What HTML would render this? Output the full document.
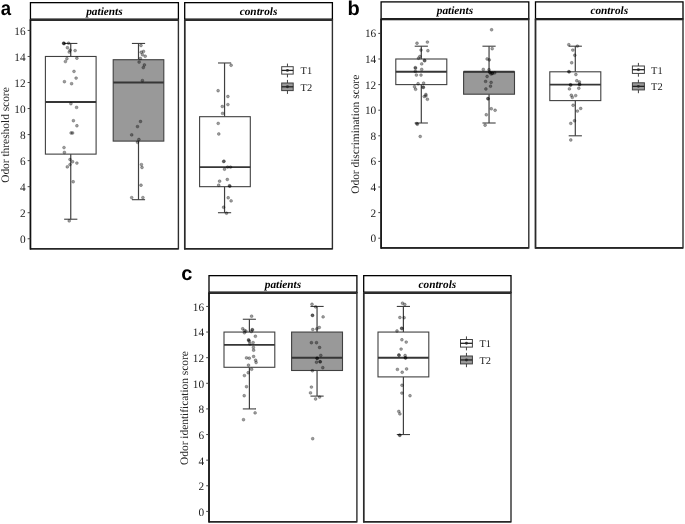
<!DOCTYPE html>
<html><head><meta charset="utf-8"><style>
html,body{margin:0;padding:0;background:#fff;}
body{width:685px;height:524px;overflow:hidden;}
svg{display:block;will-change:transform;}
text{text-rendering:geometricPrecision;}
</style></head><body>
<svg width="685" height="524" viewBox="0 0 685 524">
<rect width="685" height="524" fill="#fff"/>
<text transform="translate(0.7,14.8) scale(0.93,1)" font-family='"Liberation Sans", sans-serif' font-weight="bold" font-size="20" fill="#000">a</text>
<line x1="70.75" y1="43.45" x2="70.75" y2="56.47" stroke="#404040" stroke-width="1.2"/>
<line x1="70.75" y1="154.12" x2="70.75" y2="219.22" stroke="#404040" stroke-width="1.2"/>
<line x1="64.15" y1="43.45" x2="77.35" y2="43.45" stroke="#404040" stroke-width="1.1"/>
<line x1="64.15" y1="219.22" x2="77.35" y2="219.22" stroke="#404040" stroke-width="1.1"/>
<rect x="45.40" y="56.47" width="50.70" height="97.65" fill="#fff" stroke="#404040" stroke-width="1.1"/>
<line x1="45.40" y1="102.04" x2="96.10" y2="102.04" stroke="#363636" stroke-width="1.9"/>
<line x1="138.50" y1="43.45" x2="138.50" y2="59.72" stroke="#404040" stroke-width="1.2"/>
<line x1="138.50" y1="141.10" x2="138.50" y2="199.69" stroke="#404040" stroke-width="1.2"/>
<line x1="131.90" y1="43.45" x2="145.10" y2="43.45" stroke="#404040" stroke-width="1.1"/>
<line x1="131.90" y1="199.69" x2="145.10" y2="199.69" stroke="#404040" stroke-width="1.1"/>
<rect x="113.20" y="59.72" width="50.60" height="81.38" fill="#999999" stroke="#404040" stroke-width="1.1"/>
<line x1="113.20" y1="82.51" x2="163.80" y2="82.51" stroke="#363636" stroke-width="1.9"/>
<line x1="224.55" y1="62.98" x2="224.55" y2="116.69" stroke="#404040" stroke-width="1.2"/>
<line x1="224.55" y1="186.67" x2="224.55" y2="212.71" stroke="#404040" stroke-width="1.2"/>
<line x1="217.95" y1="62.98" x2="231.15" y2="62.98" stroke="#404040" stroke-width="1.1"/>
<line x1="217.95" y1="212.71" x2="231.15" y2="212.71" stroke="#404040" stroke-width="1.1"/>
<rect x="199.60" y="116.69" width="50.70" height="69.98" fill="#fff" stroke="#404040" stroke-width="1.1"/>
<line x1="199.60" y1="167.14" x2="250.30" y2="167.14" stroke="#363636" stroke-width="1.9"/>
<circle cx="63.8" cy="43.4" r="1.45" fill="#000" fill-opacity="0.38" stroke="#000" stroke-opacity="0.38" stroke-width="0.6"/>
<circle cx="64.2" cy="43.6" r="1.45" fill="#000" fill-opacity="0.38" stroke="#000" stroke-opacity="0.38" stroke-width="0.6"/>
<circle cx="63.6" cy="43.2" r="1.45" fill="#000" fill-opacity="0.38" stroke="#000" stroke-opacity="0.38" stroke-width="0.6"/>
<circle cx="68.6" cy="43.2" r="1.45" fill="#000" fill-opacity="0.38" stroke="#000" stroke-opacity="0.38" stroke-width="0.6"/>
<circle cx="67.4" cy="47.7" r="1.45" fill="#000" fill-opacity="0.38" stroke="#000" stroke-opacity="0.38" stroke-width="0.6"/>
<circle cx="70.1" cy="50.2" r="1.45" fill="#000" fill-opacity="0.38" stroke="#000" stroke-opacity="0.38" stroke-width="0.6"/>
<circle cx="69.2" cy="52.1" r="1.45" fill="#000" fill-opacity="0.38" stroke="#000" stroke-opacity="0.38" stroke-width="0.6"/>
<circle cx="75.1" cy="50.6" r="1.45" fill="#000" fill-opacity="0.38" stroke="#000" stroke-opacity="0.38" stroke-width="0.6"/>
<circle cx="66.9" cy="58.7" r="1.45" fill="#000" fill-opacity="0.38" stroke="#000" stroke-opacity="0.38" stroke-width="0.6"/>
<circle cx="65.4" cy="61.6" r="1.45" fill="#000" fill-opacity="0.38" stroke="#000" stroke-opacity="0.38" stroke-width="0.6"/>
<circle cx="76.9" cy="58.2" r="1.45" fill="#000" fill-opacity="0.38" stroke="#000" stroke-opacity="0.38" stroke-width="0.6"/>
<circle cx="74" cy="71.4" r="1.45" fill="#000" fill-opacity="0.38" stroke="#000" stroke-opacity="0.38" stroke-width="0.6"/>
<circle cx="76.1" cy="78.1" r="1.45" fill="#000" fill-opacity="0.38" stroke="#000" stroke-opacity="0.38" stroke-width="0.6"/>
<circle cx="64.4" cy="81.7" r="1.45" fill="#000" fill-opacity="0.38" stroke="#000" stroke-opacity="0.38" stroke-width="0.6"/>
<circle cx="71.6" cy="83.7" r="1.45" fill="#000" fill-opacity="0.38" stroke="#000" stroke-opacity="0.38" stroke-width="0.6"/>
<circle cx="70.9" cy="103.7" r="1.45" fill="#000" fill-opacity="0.38" stroke="#000" stroke-opacity="0.38" stroke-width="0.6"/>
<circle cx="76.6" cy="107.4" r="1.45" fill="#000" fill-opacity="0.38" stroke="#000" stroke-opacity="0.38" stroke-width="0.6"/>
<circle cx="73.4" cy="120.7" r="1.45" fill="#000" fill-opacity="0.38" stroke="#000" stroke-opacity="0.38" stroke-width="0.6"/>
<circle cx="76.9" cy="125.8" r="1.45" fill="#000" fill-opacity="0.38" stroke="#000" stroke-opacity="0.38" stroke-width="0.6"/>
<circle cx="71.1" cy="133" r="1.45" fill="#000" fill-opacity="0.38" stroke="#000" stroke-opacity="0.38" stroke-width="0.6"/>
<circle cx="72.6" cy="133" r="1.45" fill="#000" fill-opacity="0.38" stroke="#000" stroke-opacity="0.38" stroke-width="0.6"/>
<circle cx="64" cy="147.6" r="1.45" fill="#000" fill-opacity="0.38" stroke="#000" stroke-opacity="0.38" stroke-width="0.6"/>
<circle cx="64.4" cy="152.4" r="1.45" fill="#000" fill-opacity="0.38" stroke="#000" stroke-opacity="0.38" stroke-width="0.6"/>
<circle cx="70" cy="159.5" r="1.45" fill="#000" fill-opacity="0.38" stroke="#000" stroke-opacity="0.38" stroke-width="0.6"/>
<circle cx="72.6" cy="161.8" r="1.45" fill="#000" fill-opacity="0.38" stroke="#000" stroke-opacity="0.38" stroke-width="0.6"/>
<circle cx="76.9" cy="163.1" r="1.45" fill="#000" fill-opacity="0.38" stroke="#000" stroke-opacity="0.38" stroke-width="0.6"/>
<circle cx="70" cy="164.6" r="1.45" fill="#000" fill-opacity="0.38" stroke="#000" stroke-opacity="0.38" stroke-width="0.6"/>
<circle cx="67.3" cy="166.9" r="1.45" fill="#000" fill-opacity="0.38" stroke="#000" stroke-opacity="0.38" stroke-width="0.6"/>
<circle cx="73.2" cy="181.8" r="1.45" fill="#000" fill-opacity="0.38" stroke="#000" stroke-opacity="0.38" stroke-width="0.6"/>
<circle cx="69.2" cy="220.9" r="1.45" fill="#000" fill-opacity="0.38" stroke="#000" stroke-opacity="0.38" stroke-width="0.6"/>
<circle cx="141" cy="45.5" r="1.45" fill="#000" fill-opacity="0.38" stroke="#000" stroke-opacity="0.38" stroke-width="0.6"/>
<circle cx="141.2" cy="52.2" r="1.45" fill="#000" fill-opacity="0.38" stroke="#000" stroke-opacity="0.38" stroke-width="0.6"/>
<circle cx="143.5" cy="51.4" r="1.45" fill="#000" fill-opacity="0.38" stroke="#000" stroke-opacity="0.38" stroke-width="0.6"/>
<circle cx="142.4" cy="54.7" r="1.45" fill="#000" fill-opacity="0.38" stroke="#000" stroke-opacity="0.38" stroke-width="0.6"/>
<circle cx="145.2" cy="56.3" r="1.45" fill="#000" fill-opacity="0.38" stroke="#000" stroke-opacity="0.38" stroke-width="0.6"/>
<circle cx="140.4" cy="58.5" r="1.45" fill="#000" fill-opacity="0.38" stroke="#000" stroke-opacity="0.38" stroke-width="0.6"/>
<circle cx="139.1" cy="62.1" r="1.45" fill="#000" fill-opacity="0.38" stroke="#000" stroke-opacity="0.38" stroke-width="0.6"/>
<circle cx="144.4" cy="65" r="1.45" fill="#000" fill-opacity="0.38" stroke="#000" stroke-opacity="0.38" stroke-width="0.6"/>
<circle cx="143.3" cy="67.6" r="1.45" fill="#000" fill-opacity="0.38" stroke="#000" stroke-opacity="0.38" stroke-width="0.6"/>
<circle cx="142.4" cy="80.6" r="1.45" fill="#000" fill-opacity="0.38" stroke="#000" stroke-opacity="0.38" stroke-width="0.6"/>
<circle cx="140.5" cy="121.5" r="1.45" fill="#000" fill-opacity="0.38" stroke="#000" stroke-opacity="0.38" stroke-width="0.6"/>
<circle cx="137.5" cy="126.6" r="1.45" fill="#000" fill-opacity="0.38" stroke="#000" stroke-opacity="0.38" stroke-width="0.6"/>
<circle cx="131.7" cy="134.9" r="1.45" fill="#000" fill-opacity="0.38" stroke="#000" stroke-opacity="0.38" stroke-width="0.6"/>
<circle cx="138.9" cy="139.5" r="1.45" fill="#000" fill-opacity="0.38" stroke="#000" stroke-opacity="0.38" stroke-width="0.6"/>
<circle cx="137.5" cy="142.3" r="1.45" fill="#000" fill-opacity="0.38" stroke="#000" stroke-opacity="0.38" stroke-width="0.6"/>
<circle cx="141.4" cy="164.6" r="1.45" fill="#000" fill-opacity="0.38" stroke="#000" stroke-opacity="0.38" stroke-width="0.6"/>
<circle cx="142" cy="167.5" r="1.45" fill="#000" fill-opacity="0.38" stroke="#000" stroke-opacity="0.38" stroke-width="0.6"/>
<circle cx="141" cy="185.2" r="1.45" fill="#000" fill-opacity="0.38" stroke="#000" stroke-opacity="0.38" stroke-width="0.6"/>
<circle cx="131.7" cy="197.6" r="1.45" fill="#000" fill-opacity="0.38" stroke="#000" stroke-opacity="0.38" stroke-width="0.6"/>
<circle cx="142.9" cy="197.6" r="1.45" fill="#000" fill-opacity="0.38" stroke="#000" stroke-opacity="0.38" stroke-width="0.6"/>
<circle cx="231.1" cy="65.3" r="1.45" fill="#000" fill-opacity="0.38" stroke="#000" stroke-opacity="0.38" stroke-width="0.6"/>
<circle cx="218.1" cy="90.7" r="1.45" fill="#000" fill-opacity="0.38" stroke="#000" stroke-opacity="0.38" stroke-width="0.6"/>
<circle cx="227.9" cy="96.5" r="1.45" fill="#000" fill-opacity="0.38" stroke="#000" stroke-opacity="0.38" stroke-width="0.6"/>
<circle cx="227.9" cy="104.6" r="1.45" fill="#000" fill-opacity="0.38" stroke="#000" stroke-opacity="0.38" stroke-width="0.6"/>
<circle cx="222.3" cy="106.5" r="1.45" fill="#000" fill-opacity="0.38" stroke="#000" stroke-opacity="0.38" stroke-width="0.6"/>
<circle cx="222.6" cy="113.4" r="1.45" fill="#000" fill-opacity="0.38" stroke="#000" stroke-opacity="0.38" stroke-width="0.6"/>
<circle cx="218.2" cy="123.4" r="1.45" fill="#000" fill-opacity="0.38" stroke="#000" stroke-opacity="0.38" stroke-width="0.6"/>
<circle cx="218.8" cy="134" r="1.45" fill="#000" fill-opacity="0.38" stroke="#000" stroke-opacity="0.38" stroke-width="0.6"/>
<circle cx="224" cy="161.2" r="1.45" fill="#000" fill-opacity="0.38" stroke="#000" stroke-opacity="0.38" stroke-width="0.6"/>
<circle cx="223.6" cy="161.6" r="1.45" fill="#000" fill-opacity="0.38" stroke="#000" stroke-opacity="0.38" stroke-width="0.6"/>
<circle cx="227.6" cy="167.1" r="1.45" fill="#000" fill-opacity="0.38" stroke="#000" stroke-opacity="0.38" stroke-width="0.6"/>
<circle cx="230.5" cy="167.1" r="1.45" fill="#000" fill-opacity="0.38" stroke="#000" stroke-opacity="0.38" stroke-width="0.6"/>
<circle cx="224.5" cy="169.2" r="1.45" fill="#000" fill-opacity="0.38" stroke="#000" stroke-opacity="0.38" stroke-width="0.6"/>
<circle cx="219.6" cy="181.2" r="1.45" fill="#000" fill-opacity="0.38" stroke="#000" stroke-opacity="0.38" stroke-width="0.6"/>
<circle cx="227.3" cy="179.5" r="1.45" fill="#000" fill-opacity="0.38" stroke="#000" stroke-opacity="0.38" stroke-width="0.6"/>
<circle cx="218.7" cy="185.2" r="1.45" fill="#000" fill-opacity="0.38" stroke="#000" stroke-opacity="0.38" stroke-width="0.6"/>
<circle cx="229.4" cy="185.8" r="1.45" fill="#000" fill-opacity="0.38" stroke="#000" stroke-opacity="0.38" stroke-width="0.6"/>
<circle cx="229.9" cy="186.2" r="1.45" fill="#000" fill-opacity="0.38" stroke="#000" stroke-opacity="0.38" stroke-width="0.6"/>
<circle cx="228.2" cy="197.8" r="1.45" fill="#000" fill-opacity="0.38" stroke="#000" stroke-opacity="0.38" stroke-width="0.6"/>
<circle cx="231.1" cy="200.9" r="1.45" fill="#000" fill-opacity="0.38" stroke="#000" stroke-opacity="0.38" stroke-width="0.6"/>
<circle cx="223.6" cy="207.3" r="1.45" fill="#000" fill-opacity="0.38" stroke="#000" stroke-opacity="0.38" stroke-width="0.6"/>
<circle cx="226.5" cy="213.2" r="1.45" fill="#000" fill-opacity="0.38" stroke="#000" stroke-opacity="0.38" stroke-width="0.6"/>
<rect x="30.45" y="2.65" width="147.95" height="17.05" fill="none" stroke="#000" stroke-width="1.3"/>
<line x1="30.45" y1="19.7" x2="178.4" y2="19.7" stroke="#000" stroke-width="2.3"/>
<rect x="30.45" y="19.7" width="147.95" height="229.10" fill="none" stroke="#2e2e2e" stroke-width="1.4"/>
<line x1="30.45" y1="248.8" x2="178.4" y2="248.8" stroke="#262626" stroke-width="1.6"/>
<line x1="30.45" y1="19.7" x2="30.45" y2="249.60" stroke="#111" stroke-width="1.5"/>
<rect x="184.7" y="2.65" width="147.70" height="17.05" fill="none" stroke="#000" stroke-width="1.3"/>
<line x1="184.7" y1="19.7" x2="332.4" y2="19.7" stroke="#000" stroke-width="2.3"/>
<rect x="184.7" y="19.7" width="147.70" height="229.10" fill="none" stroke="#2e2e2e" stroke-width="1.4"/>
<line x1="184.7" y1="248.8" x2="332.4" y2="248.8" stroke="#262626" stroke-width="1.6"/>
<line x1="184.7" y1="19.7" x2="184.7" y2="249.60" stroke="#2a2a2a" stroke-width="1.5"/>
<text x="104.42" y="14.80" text-anchor="middle" font-family='"Liberation Serif", serif' font-style="italic" font-weight="bold" font-size="11.3" fill="#000">patients</text>
<text x="258.55" y="14.80" text-anchor="middle" font-family='"Liberation Serif", serif' font-style="italic" font-weight="bold" font-size="11.3" fill="#000">controls</text>
<line x1="27.65" y1="238.75" x2="30.45" y2="238.75" stroke="#333" stroke-width="0.9"/>
<text x="25.55" y="243.05" text-anchor="end" font-family='"Liberation Serif", serif' font-size="11.3" fill="#222">0</text>
<line x1="27.65" y1="212.71" x2="30.45" y2="212.71" stroke="#333" stroke-width="0.9"/>
<text x="25.55" y="217.01" text-anchor="end" font-family='"Liberation Serif", serif' font-size="11.3" fill="#222">2</text>
<line x1="27.65" y1="186.67" x2="30.45" y2="186.67" stroke="#333" stroke-width="0.9"/>
<text x="25.55" y="190.97" text-anchor="end" font-family='"Liberation Serif", serif' font-size="11.3" fill="#222">4</text>
<line x1="27.65" y1="160.63" x2="30.45" y2="160.63" stroke="#333" stroke-width="0.9"/>
<text x="25.55" y="164.93" text-anchor="end" font-family='"Liberation Serif", serif' font-size="11.3" fill="#222">6</text>
<line x1="27.65" y1="134.59" x2="30.45" y2="134.59" stroke="#333" stroke-width="0.9"/>
<text x="25.55" y="138.89" text-anchor="end" font-family='"Liberation Serif", serif' font-size="11.3" fill="#222">8</text>
<line x1="27.65" y1="108.55" x2="30.45" y2="108.55" stroke="#333" stroke-width="0.9"/>
<text x="25.55" y="112.85" text-anchor="end" font-family='"Liberation Serif", serif' font-size="11.3" fill="#222">10</text>
<line x1="27.65" y1="82.51" x2="30.45" y2="82.51" stroke="#333" stroke-width="0.9"/>
<text x="25.55" y="86.81" text-anchor="end" font-family='"Liberation Serif", serif' font-size="11.3" fill="#222">12</text>
<line x1="27.65" y1="56.47" x2="30.45" y2="56.47" stroke="#333" stroke-width="0.9"/>
<text x="25.55" y="60.77" text-anchor="end" font-family='"Liberation Serif", serif' font-size="11.3" fill="#222">14</text>
<line x1="27.65" y1="30.43" x2="30.45" y2="30.43" stroke="#333" stroke-width="0.9"/>
<text x="25.55" y="34.73" text-anchor="end" font-family='"Liberation Serif", serif' font-size="11.3" fill="#222">16</text>
<text transform="translate(9.0,135.05) rotate(-90)" text-anchor="middle" font-family='"Liberation Serif", serif' font-size="11.4" fill="#222">Odor threshold score</text>
<line x1="287.45" y1="63.60" x2="287.45" y2="77.40" stroke="#404040" stroke-width="1"/>
<rect x="281.70" y="66.70" width="11.50" height="7.40" fill="#fff" stroke="#404040" stroke-width="1.0"/>
<line x1="281.70" y1="70.40" x2="293.20" y2="70.40" stroke="#222" stroke-width="1.3"/>
<circle cx="287.45" cy="70.40" r="1.45" fill="#222" fill-opacity="0.85"/>
<text x="300.60" y="74.20" font-family='"Liberation Serif", serif' font-size="10.4" fill="#222">T1</text>
<line x1="287.45" y1="79.90" x2="287.45" y2="93.90" stroke="#404040" stroke-width="1"/>
<rect x="281.70" y="83.00" width="11.50" height="7.60" fill="#999999" stroke="#404040" stroke-width="1.0"/>
<line x1="281.70" y1="86.80" x2="293.20" y2="86.80" stroke="#222" stroke-width="1.3"/>
<circle cx="287.45" cy="86.80" r="1.45" fill="#222" fill-opacity="0.85"/>
<text x="300.60" y="90.70" font-family='"Liberation Serif", serif' font-size="10.4" fill="#222">T2</text>
<text transform="translate(347.5,14.8) scale(1,1)" font-family='"Liberation Sans", sans-serif' font-weight="bold" font-size="20" fill="#000">b</text>
<line x1="421.30" y1="46.20" x2="421.30" y2="59.00" stroke="#404040" stroke-width="1.2"/>
<line x1="421.30" y1="84.60" x2="421.30" y2="123.00" stroke="#404040" stroke-width="1.2"/>
<line x1="414.70" y1="46.20" x2="427.90" y2="46.20" stroke="#404040" stroke-width="1.1"/>
<line x1="414.70" y1="123.00" x2="427.90" y2="123.00" stroke="#404040" stroke-width="1.1"/>
<rect x="395.80" y="59.00" width="51.00" height="25.60" fill="#fff" stroke="#404040" stroke-width="1.1"/>
<line x1="395.80" y1="71.80" x2="446.80" y2="71.80" stroke="#363636" stroke-width="1.9"/>
<line x1="489.05" y1="46.20" x2="489.05" y2="71.80" stroke="#404040" stroke-width="1.2"/>
<line x1="489.05" y1="94.20" x2="489.05" y2="123.00" stroke="#404040" stroke-width="1.2"/>
<line x1="482.45" y1="46.20" x2="495.65" y2="46.20" stroke="#404040" stroke-width="1.1"/>
<line x1="482.45" y1="123.00" x2="495.65" y2="123.00" stroke="#404040" stroke-width="1.1"/>
<rect x="463.60" y="71.80" width="50.90" height="22.40" fill="#999999" stroke="#404040" stroke-width="1.1"/>
<line x1="463.60" y1="71.80" x2="514.50" y2="71.80" stroke="#363636" stroke-width="1.9"/>
<line x1="575.30" y1="46.20" x2="575.30" y2="71.80" stroke="#404040" stroke-width="1.2"/>
<line x1="575.30" y1="100.60" x2="575.30" y2="135.80" stroke="#404040" stroke-width="1.2"/>
<line x1="568.70" y1="46.20" x2="581.90" y2="46.20" stroke="#404040" stroke-width="1.1"/>
<line x1="568.70" y1="135.80" x2="581.90" y2="135.80" stroke="#404040" stroke-width="1.1"/>
<rect x="549.80" y="71.80" width="51.00" height="28.80" fill="#fff" stroke="#404040" stroke-width="1.1"/>
<line x1="549.80" y1="84.60" x2="600.80" y2="84.60" stroke="#363636" stroke-width="1.9"/>
<circle cx="417" cy="43.2" r="1.45" fill="#000" fill-opacity="0.38" stroke="#000" stroke-opacity="0.38" stroke-width="0.6"/>
<circle cx="427.4" cy="42.1" r="1.45" fill="#000" fill-opacity="0.38" stroke="#000" stroke-opacity="0.38" stroke-width="0.6"/>
<circle cx="421" cy="50.1" r="1.45" fill="#000" fill-opacity="0.38" stroke="#000" stroke-opacity="0.38" stroke-width="0.6"/>
<circle cx="427.9" cy="50.7" r="1.45" fill="#000" fill-opacity="0.38" stroke="#000" stroke-opacity="0.38" stroke-width="0.6"/>
<circle cx="419.9" cy="56.5" r="1.45" fill="#000" fill-opacity="0.38" stroke="#000" stroke-opacity="0.38" stroke-width="0.6"/>
<circle cx="418.5" cy="58.2" r="1.45" fill="#000" fill-opacity="0.38" stroke="#000" stroke-opacity="0.38" stroke-width="0.6"/>
<circle cx="424.4" cy="60.4" r="1.45" fill="#000" fill-opacity="0.38" stroke="#000" stroke-opacity="0.38" stroke-width="0.6"/>
<circle cx="424.8" cy="60.8" r="1.45" fill="#000" fill-opacity="0.38" stroke="#000" stroke-opacity="0.38" stroke-width="0.6"/>
<circle cx="421.7" cy="63.9" r="1.45" fill="#000" fill-opacity="0.38" stroke="#000" stroke-opacity="0.38" stroke-width="0.6"/>
<circle cx="415.3" cy="67.6" r="1.45" fill="#000" fill-opacity="0.38" stroke="#000" stroke-opacity="0.38" stroke-width="0.6"/>
<circle cx="415.5" cy="68.2" r="1.45" fill="#000" fill-opacity="0.38" stroke="#000" stroke-opacity="0.38" stroke-width="0.6"/>
<circle cx="421.7" cy="69.4" r="1.45" fill="#000" fill-opacity="0.38" stroke="#000" stroke-opacity="0.38" stroke-width="0.6"/>
<circle cx="415.3" cy="71.4" r="1.45" fill="#000" fill-opacity="0.38" stroke="#000" stroke-opacity="0.38" stroke-width="0.6"/>
<circle cx="416.4" cy="75.1" r="1.45" fill="#000" fill-opacity="0.38" stroke="#000" stroke-opacity="0.38" stroke-width="0.6"/>
<circle cx="421" cy="75.1" r="1.45" fill="#000" fill-opacity="0.38" stroke="#000" stroke-opacity="0.38" stroke-width="0.6"/>
<circle cx="418.1" cy="83.7" r="1.45" fill="#000" fill-opacity="0.38" stroke="#000" stroke-opacity="0.38" stroke-width="0.6"/>
<circle cx="423.6" cy="83.1" r="1.45" fill="#000" fill-opacity="0.38" stroke="#000" stroke-opacity="0.38" stroke-width="0.6"/>
<circle cx="414.5" cy="86.8" r="1.45" fill="#000" fill-opacity="0.38" stroke="#000" stroke-opacity="0.38" stroke-width="0.6"/>
<circle cx="423.1" cy="87.1" r="1.45" fill="#000" fill-opacity="0.38" stroke="#000" stroke-opacity="0.38" stroke-width="0.6"/>
<circle cx="423.4" cy="87.5" r="1.45" fill="#000" fill-opacity="0.38" stroke="#000" stroke-opacity="0.38" stroke-width="0.6"/>
<circle cx="415.6" cy="89.3" r="1.45" fill="#000" fill-opacity="0.38" stroke="#000" stroke-opacity="0.38" stroke-width="0.6"/>
<circle cx="425.9" cy="94.5" r="1.45" fill="#000" fill-opacity="0.38" stroke="#000" stroke-opacity="0.38" stroke-width="0.6"/>
<circle cx="424.2" cy="96.5" r="1.45" fill="#000" fill-opacity="0.38" stroke="#000" stroke-opacity="0.38" stroke-width="0.6"/>
<circle cx="425.9" cy="95.9" r="1.45" fill="#000" fill-opacity="0.38" stroke="#000" stroke-opacity="0.38" stroke-width="0.6"/>
<circle cx="427.4" cy="99.3" r="1.45" fill="#000" fill-opacity="0.38" stroke="#000" stroke-opacity="0.38" stroke-width="0.6"/>
<circle cx="416.8" cy="123.6" r="1.45" fill="#000" fill-opacity="0.38" stroke="#000" stroke-opacity="0.38" stroke-width="0.6"/>
<circle cx="417.4" cy="124.2" r="1.45" fill="#000" fill-opacity="0.38" stroke="#000" stroke-opacity="0.38" stroke-width="0.6"/>
<circle cx="420.2" cy="136.5" r="1.45" fill="#000" fill-opacity="0.38" stroke="#000" stroke-opacity="0.38" stroke-width="0.6"/>
<circle cx="491.6" cy="29.8" r="1.45" fill="#000" fill-opacity="0.38" stroke="#000" stroke-opacity="0.38" stroke-width="0.6"/>
<circle cx="492.2" cy="48.7" r="1.45" fill="#000" fill-opacity="0.38" stroke="#000" stroke-opacity="0.38" stroke-width="0.6"/>
<circle cx="487.1" cy="59" r="1.45" fill="#000" fill-opacity="0.38" stroke="#000" stroke-opacity="0.38" stroke-width="0.6"/>
<circle cx="489.3" cy="59.9" r="1.45" fill="#000" fill-opacity="0.38" stroke="#000" stroke-opacity="0.38" stroke-width="0.6"/>
<circle cx="483.3" cy="69.4" r="1.45" fill="#000" fill-opacity="0.38" stroke="#000" stroke-opacity="0.38" stroke-width="0.6"/>
<circle cx="489" cy="69.7" r="1.45" fill="#000" fill-opacity="0.38" stroke="#000" stroke-opacity="0.38" stroke-width="0.6"/>
<circle cx="489.7" cy="72.2" r="1.45" fill="#000" fill-opacity="0.38" stroke="#000" stroke-opacity="0.38" stroke-width="0.6"/>
<circle cx="490.1" cy="72.6" r="1.45" fill="#000" fill-opacity="0.38" stroke="#000" stroke-opacity="0.38" stroke-width="0.6"/>
<circle cx="492.2" cy="73.1" r="1.45" fill="#000" fill-opacity="0.38" stroke="#000" stroke-opacity="0.38" stroke-width="0.6"/>
<circle cx="492.6" cy="73.5" r="1.45" fill="#000" fill-opacity="0.38" stroke="#000" stroke-opacity="0.38" stroke-width="0.6"/>
<circle cx="494.7" cy="72.9" r="1.45" fill="#000" fill-opacity="0.38" stroke="#000" stroke-opacity="0.38" stroke-width="0.6"/>
<circle cx="491.1" cy="74" r="1.45" fill="#000" fill-opacity="0.38" stroke="#000" stroke-opacity="0.38" stroke-width="0.6"/>
<circle cx="487.1" cy="76.5" r="1.45" fill="#000" fill-opacity="0.38" stroke="#000" stroke-opacity="0.38" stroke-width="0.6"/>
<circle cx="485.6" cy="81.4" r="1.45" fill="#000" fill-opacity="0.38" stroke="#000" stroke-opacity="0.38" stroke-width="0.6"/>
<circle cx="491.1" cy="82.4" r="1.45" fill="#000" fill-opacity="0.38" stroke="#000" stroke-opacity="0.38" stroke-width="0.6"/>
<circle cx="490.5" cy="86.2" r="1.45" fill="#000" fill-opacity="0.38" stroke="#000" stroke-opacity="0.38" stroke-width="0.6"/>
<circle cx="485.9" cy="89" r="1.45" fill="#000" fill-opacity="0.38" stroke="#000" stroke-opacity="0.38" stroke-width="0.6"/>
<circle cx="487.9" cy="98.5" r="1.45" fill="#000" fill-opacity="0.38" stroke="#000" stroke-opacity="0.38" stroke-width="0.6"/>
<circle cx="488.1" cy="98.9" r="1.45" fill="#000" fill-opacity="0.38" stroke="#000" stroke-opacity="0.38" stroke-width="0.6"/>
<circle cx="491.3" cy="108.8" r="1.45" fill="#000" fill-opacity="0.38" stroke="#000" stroke-opacity="0.38" stroke-width="0.6"/>
<circle cx="495.1" cy="110.3" r="1.45" fill="#000" fill-opacity="0.38" stroke="#000" stroke-opacity="0.38" stroke-width="0.6"/>
<circle cx="486.3" cy="114.8" r="1.45" fill="#000" fill-opacity="0.38" stroke="#000" stroke-opacity="0.38" stroke-width="0.6"/>
<circle cx="485.1" cy="125.2" r="1.45" fill="#000" fill-opacity="0.38" stroke="#000" stroke-opacity="0.38" stroke-width="0.6"/>
<circle cx="568.8" cy="44.7" r="1.45" fill="#000" fill-opacity="0.38" stroke="#000" stroke-opacity="0.38" stroke-width="0.6"/>
<circle cx="577.4" cy="46.1" r="1.45" fill="#000" fill-opacity="0.38" stroke="#000" stroke-opacity="0.38" stroke-width="0.6"/>
<circle cx="572.8" cy="50.1" r="1.45" fill="#000" fill-opacity="0.38" stroke="#000" stroke-opacity="0.38" stroke-width="0.6"/>
<circle cx="574.8" cy="55.3" r="1.45" fill="#000" fill-opacity="0.38" stroke="#000" stroke-opacity="0.38" stroke-width="0.6"/>
<circle cx="571.7" cy="62.8" r="1.45" fill="#000" fill-opacity="0.38" stroke="#000" stroke-opacity="0.38" stroke-width="0.6"/>
<circle cx="568.8" cy="71.6" r="1.45" fill="#000" fill-opacity="0.38" stroke="#000" stroke-opacity="0.38" stroke-width="0.6"/>
<circle cx="569.2" cy="71.9" r="1.45" fill="#000" fill-opacity="0.38" stroke="#000" stroke-opacity="0.38" stroke-width="0.6"/>
<circle cx="575.9" cy="74.5" r="1.45" fill="#000" fill-opacity="0.38" stroke="#000" stroke-opacity="0.38" stroke-width="0.6"/>
<circle cx="576.8" cy="80.8" r="1.45" fill="#000" fill-opacity="0.38" stroke="#000" stroke-opacity="0.38" stroke-width="0.6"/>
<circle cx="579.4" cy="82" r="1.45" fill="#000" fill-opacity="0.38" stroke="#000" stroke-opacity="0.38" stroke-width="0.6"/>
<circle cx="570.4" cy="84.8" r="1.45" fill="#000" fill-opacity="0.38" stroke="#000" stroke-opacity="0.38" stroke-width="0.6"/>
<circle cx="570.8" cy="85.1" r="1.45" fill="#000" fill-opacity="0.38" stroke="#000" stroke-opacity="0.38" stroke-width="0.6"/>
<circle cx="579.4" cy="84.2" r="1.45" fill="#000" fill-opacity="0.38" stroke="#000" stroke-opacity="0.38" stroke-width="0.6"/>
<circle cx="579.7" cy="84.6" r="1.45" fill="#000" fill-opacity="0.38" stroke="#000" stroke-opacity="0.38" stroke-width="0.6"/>
<circle cx="569.4" cy="88.9" r="1.45" fill="#000" fill-opacity="0.38" stroke="#000" stroke-opacity="0.38" stroke-width="0.6"/>
<circle cx="578.8" cy="88.3" r="1.45" fill="#000" fill-opacity="0.38" stroke="#000" stroke-opacity="0.38" stroke-width="0.6"/>
<circle cx="571.3" cy="95.3" r="1.45" fill="#000" fill-opacity="0.38" stroke="#000" stroke-opacity="0.38" stroke-width="0.6"/>
<circle cx="572.3" cy="97.4" r="1.45" fill="#000" fill-opacity="0.38" stroke="#000" stroke-opacity="0.38" stroke-width="0.6"/>
<circle cx="575.7" cy="95.6" r="1.45" fill="#000" fill-opacity="0.38" stroke="#000" stroke-opacity="0.38" stroke-width="0.6"/>
<circle cx="573.1" cy="105.3" r="1.45" fill="#000" fill-opacity="0.38" stroke="#000" stroke-opacity="0.38" stroke-width="0.6"/>
<circle cx="577.4" cy="111.1" r="1.45" fill="#000" fill-opacity="0.38" stroke="#000" stroke-opacity="0.38" stroke-width="0.6"/>
<circle cx="580.7" cy="108.5" r="1.45" fill="#000" fill-opacity="0.38" stroke="#000" stroke-opacity="0.38" stroke-width="0.6"/>
<circle cx="574.5" cy="120.8" r="1.45" fill="#000" fill-opacity="0.38" stroke="#000" stroke-opacity="0.38" stroke-width="0.6"/>
<circle cx="570.8" cy="123.4" r="1.45" fill="#000" fill-opacity="0.38" stroke="#000" stroke-opacity="0.38" stroke-width="0.6"/>
<circle cx="570.8" cy="140" r="1.45" fill="#000" fill-opacity="0.38" stroke="#000" stroke-opacity="0.38" stroke-width="0.6"/>
<rect x="381.1" y="1.9" width="147.70" height="17.15" fill="none" stroke="#000" stroke-width="1.3"/>
<line x1="381.1" y1="19.05" x2="528.8" y2="19.05" stroke="#000" stroke-width="2.3"/>
<rect x="381.1" y="19.05" width="147.70" height="228.85" fill="none" stroke="#2e2e2e" stroke-width="1.4"/>
<line x1="381.1" y1="247.9" x2="528.8" y2="247.9" stroke="#262626" stroke-width="1.6"/>
<line x1="381.1" y1="19.05" x2="381.1" y2="248.70" stroke="#111" stroke-width="1.5"/>
<rect x="535.5" y="1.9" width="147.50" height="17.15" fill="none" stroke="#000" stroke-width="1.3"/>
<line x1="535.5" y1="19.05" x2="683.0" y2="19.05" stroke="#000" stroke-width="2.3"/>
<rect x="535.5" y="19.05" width="147.50" height="228.85" fill="none" stroke="#2e2e2e" stroke-width="1.4"/>
<line x1="535.5" y1="247.9" x2="683.0" y2="247.9" stroke="#262626" stroke-width="1.6"/>
<line x1="535.5" y1="19.05" x2="535.5" y2="248.70" stroke="#2a2a2a" stroke-width="1.5"/>
<text x="454.95" y="14.15" text-anchor="middle" font-family='"Liberation Serif", serif' font-style="italic" font-weight="bold" font-size="11.3" fill="#000">patients</text>
<text x="609.25" y="14.15" text-anchor="middle" font-family='"Liberation Serif", serif' font-style="italic" font-weight="bold" font-size="11.3" fill="#000">controls</text>
<line x1="378.30" y1="238.20" x2="381.10" y2="238.20" stroke="#333" stroke-width="0.9"/>
<text x="376.20" y="242.20" text-anchor="end" font-family='"Liberation Serif", serif' font-size="11.3" fill="#222">0</text>
<line x1="378.30" y1="212.60" x2="381.10" y2="212.60" stroke="#333" stroke-width="0.9"/>
<text x="376.20" y="216.60" text-anchor="end" font-family='"Liberation Serif", serif' font-size="11.3" fill="#222">2</text>
<line x1="378.30" y1="187.00" x2="381.10" y2="187.00" stroke="#333" stroke-width="0.9"/>
<text x="376.20" y="191.00" text-anchor="end" font-family='"Liberation Serif", serif' font-size="11.3" fill="#222">4</text>
<line x1="378.30" y1="161.40" x2="381.10" y2="161.40" stroke="#333" stroke-width="0.9"/>
<text x="376.20" y="165.40" text-anchor="end" font-family='"Liberation Serif", serif' font-size="11.3" fill="#222">6</text>
<line x1="378.30" y1="135.80" x2="381.10" y2="135.80" stroke="#333" stroke-width="0.9"/>
<text x="376.20" y="139.80" text-anchor="end" font-family='"Liberation Serif", serif' font-size="11.3" fill="#222">8</text>
<line x1="378.30" y1="110.20" x2="381.10" y2="110.20" stroke="#333" stroke-width="0.9"/>
<text x="376.20" y="114.20" text-anchor="end" font-family='"Liberation Serif", serif' font-size="11.3" fill="#222">10</text>
<line x1="378.30" y1="84.60" x2="381.10" y2="84.60" stroke="#333" stroke-width="0.9"/>
<text x="376.20" y="88.60" text-anchor="end" font-family='"Liberation Serif", serif' font-size="11.3" fill="#222">12</text>
<line x1="378.30" y1="59.00" x2="381.10" y2="59.00" stroke="#333" stroke-width="0.9"/>
<text x="376.20" y="63.00" text-anchor="end" font-family='"Liberation Serif", serif' font-size="11.3" fill="#222">14</text>
<line x1="378.30" y1="33.40" x2="381.10" y2="33.40" stroke="#333" stroke-width="0.9"/>
<text x="376.20" y="37.40" text-anchor="end" font-family='"Liberation Serif", serif' font-size="11.3" fill="#222">16</text>
<text transform="translate(359.2,134.28) rotate(-90)" text-anchor="middle" font-family='"Liberation Serif", serif' font-size="11.4" fill="#222">Odor discrimination score</text>
<line x1="638.40" y1="62.90" x2="638.40" y2="76.70" stroke="#404040" stroke-width="1"/>
<rect x="632.40" y="66.00" width="12.00" height="7.40" fill="#fff" stroke="#404040" stroke-width="1.0"/>
<line x1="632.40" y1="69.70" x2="644.40" y2="69.70" stroke="#222" stroke-width="1.3"/>
<circle cx="638.40" cy="69.70" r="1.45" fill="#222" fill-opacity="0.85"/>
<text x="651.10" y="73.50" font-family='"Liberation Serif", serif' font-size="10.4" fill="#222">T1</text>
<line x1="638.40" y1="79.70" x2="638.40" y2="93.20" stroke="#404040" stroke-width="1"/>
<rect x="632.40" y="82.80" width="12.00" height="7.10" fill="#999999" stroke="#404040" stroke-width="1.0"/>
<line x1="632.40" y1="86.35" x2="644.40" y2="86.35" stroke="#222" stroke-width="1.3"/>
<circle cx="638.40" cy="86.35" r="1.45" fill="#222" fill-opacity="0.85"/>
<text x="651.10" y="90.00" font-family='"Liberation Serif", serif' font-size="10.4" fill="#222">T2</text>
<text transform="translate(181.3,279.8) scale(1,1)" font-family='"Liberation Sans", sans-serif' font-weight="bold" font-size="20" fill="#000">c</text>
<line x1="249.40" y1="319.25" x2="249.40" y2="332.06" stroke="#404040" stroke-width="1.2"/>
<line x1="249.40" y1="367.29" x2="249.40" y2="408.92" stroke="#404040" stroke-width="1.2"/>
<line x1="242.80" y1="319.25" x2="256.00" y2="319.25" stroke="#404040" stroke-width="1.1"/>
<line x1="242.80" y1="408.92" x2="256.00" y2="408.92" stroke="#404040" stroke-width="1.1"/>
<rect x="224.00" y="332.06" width="50.80" height="35.23" fill="#fff" stroke="#404040" stroke-width="1.1"/>
<line x1="224.00" y1="344.87" x2="274.80" y2="344.87" stroke="#363636" stroke-width="1.9"/>
<line x1="317.05" y1="306.44" x2="317.05" y2="332.06" stroke="#404040" stroke-width="1.2"/>
<line x1="317.05" y1="370.49" x2="317.05" y2="396.11" stroke="#404040" stroke-width="1.2"/>
<line x1="310.45" y1="306.44" x2="323.65" y2="306.44" stroke="#404040" stroke-width="1.1"/>
<line x1="310.45" y1="396.11" x2="323.65" y2="396.11" stroke="#404040" stroke-width="1.1"/>
<rect x="291.60" y="332.06" width="50.90" height="38.43" fill="#999999" stroke="#404040" stroke-width="1.1"/>
<line x1="291.60" y1="357.68" x2="342.50" y2="357.68" stroke="#363636" stroke-width="1.9"/>
<line x1="403.40" y1="306.44" x2="403.40" y2="332.06" stroke="#404040" stroke-width="1.2"/>
<line x1="403.40" y1="376.89" x2="403.40" y2="434.54" stroke="#404040" stroke-width="1.2"/>
<line x1="396.80" y1="306.44" x2="410.00" y2="306.44" stroke="#404040" stroke-width="1.1"/>
<line x1="396.80" y1="434.54" x2="410.00" y2="434.54" stroke="#404040" stroke-width="1.1"/>
<rect x="378.00" y="332.06" width="50.80" height="44.84" fill="#fff" stroke="#404040" stroke-width="1.1"/>
<line x1="378.00" y1="357.68" x2="428.80" y2="357.68" stroke="#363636" stroke-width="1.9"/>
<circle cx="251.6" cy="316.2" r="1.45" fill="#000" fill-opacity="0.38" stroke="#000" stroke-opacity="0.38" stroke-width="0.6"/>
<circle cx="242.7" cy="328.8" r="1.45" fill="#000" fill-opacity="0.38" stroke="#000" stroke-opacity="0.38" stroke-width="0.6"/>
<circle cx="244.4" cy="330.4" r="1.45" fill="#000" fill-opacity="0.38" stroke="#000" stroke-opacity="0.38" stroke-width="0.6"/>
<circle cx="245.9" cy="331.1" r="1.45" fill="#000" fill-opacity="0.38" stroke="#000" stroke-opacity="0.38" stroke-width="0.6"/>
<circle cx="244.4" cy="332.8" r="1.45" fill="#000" fill-opacity="0.38" stroke="#000" stroke-opacity="0.38" stroke-width="0.6"/>
<circle cx="252.2" cy="329.6" r="1.45" fill="#000" fill-opacity="0.38" stroke="#000" stroke-opacity="0.38" stroke-width="0.6"/>
<circle cx="252.5" cy="330" r="1.45" fill="#000" fill-opacity="0.38" stroke="#000" stroke-opacity="0.38" stroke-width="0.6"/>
<circle cx="251.3" cy="331.6" r="1.45" fill="#000" fill-opacity="0.38" stroke="#000" stroke-opacity="0.38" stroke-width="0.6"/>
<circle cx="255.4" cy="336.3" r="1.45" fill="#000" fill-opacity="0.38" stroke="#000" stroke-opacity="0.38" stroke-width="0.6"/>
<circle cx="248.5" cy="339.9" r="1.45" fill="#000" fill-opacity="0.38" stroke="#000" stroke-opacity="0.38" stroke-width="0.6"/>
<circle cx="248.8" cy="340.3" r="1.45" fill="#000" fill-opacity="0.38" stroke="#000" stroke-opacity="0.38" stroke-width="0.6"/>
<circle cx="249.3" cy="341.4" r="1.45" fill="#000" fill-opacity="0.38" stroke="#000" stroke-opacity="0.38" stroke-width="0.6"/>
<circle cx="253.1" cy="342.6" r="1.45" fill="#000" fill-opacity="0.38" stroke="#000" stroke-opacity="0.38" stroke-width="0.6"/>
<circle cx="249.9" cy="343.9" r="1.45" fill="#000" fill-opacity="0.38" stroke="#000" stroke-opacity="0.38" stroke-width="0.6"/>
<circle cx="253.4" cy="347.4" r="1.45" fill="#000" fill-opacity="0.38" stroke="#000" stroke-opacity="0.38" stroke-width="0.6"/>
<circle cx="253.6" cy="350.2" r="1.45" fill="#000" fill-opacity="0.38" stroke="#000" stroke-opacity="0.38" stroke-width="0.6"/>
<circle cx="253.6" cy="356.5" r="1.45" fill="#000" fill-opacity="0.38" stroke="#000" stroke-opacity="0.38" stroke-width="0.6"/>
<circle cx="246.5" cy="357.9" r="1.45" fill="#000" fill-opacity="0.38" stroke="#000" stroke-opacity="0.38" stroke-width="0.6"/>
<circle cx="249.3" cy="358.2" r="1.45" fill="#000" fill-opacity="0.38" stroke="#000" stroke-opacity="0.38" stroke-width="0.6"/>
<circle cx="255.6" cy="360.3" r="1.45" fill="#000" fill-opacity="0.38" stroke="#000" stroke-opacity="0.38" stroke-width="0.6"/>
<circle cx="256.1" cy="362.5" r="1.45" fill="#000" fill-opacity="0.38" stroke="#000" stroke-opacity="0.38" stroke-width="0.6"/>
<circle cx="248.5" cy="365.2" r="1.45" fill="#000" fill-opacity="0.38" stroke="#000" stroke-opacity="0.38" stroke-width="0.6"/>
<circle cx="251.6" cy="369.3" r="1.45" fill="#000" fill-opacity="0.38" stroke="#000" stroke-opacity="0.38" stroke-width="0.6"/>
<circle cx="248.2" cy="372.7" r="1.45" fill="#000" fill-opacity="0.38" stroke="#000" stroke-opacity="0.38" stroke-width="0.6"/>
<circle cx="244.4" cy="375.6" r="1.45" fill="#000" fill-opacity="0.38" stroke="#000" stroke-opacity="0.38" stroke-width="0.6"/>
<circle cx="246.5" cy="386.7" r="1.45" fill="#000" fill-opacity="0.38" stroke="#000" stroke-opacity="0.38" stroke-width="0.6"/>
<circle cx="244.2" cy="395.7" r="1.45" fill="#000" fill-opacity="0.38" stroke="#000" stroke-opacity="0.38" stroke-width="0.6"/>
<circle cx="255.1" cy="412.9" r="1.45" fill="#000" fill-opacity="0.38" stroke="#000" stroke-opacity="0.38" stroke-width="0.6"/>
<circle cx="243.5" cy="419.7" r="1.45" fill="#000" fill-opacity="0.38" stroke="#000" stroke-opacity="0.38" stroke-width="0.6"/>
<circle cx="312" cy="304.3" r="1.45" fill="#000" fill-opacity="0.38" stroke="#000" stroke-opacity="0.38" stroke-width="0.6"/>
<circle cx="315.6" cy="306.9" r="1.45" fill="#000" fill-opacity="0.38" stroke="#000" stroke-opacity="0.38" stroke-width="0.6"/>
<circle cx="312.4" cy="315.2" r="1.45" fill="#000" fill-opacity="0.38" stroke="#000" stroke-opacity="0.38" stroke-width="0.6"/>
<circle cx="312.6" cy="315.5" r="1.45" fill="#000" fill-opacity="0.38" stroke="#000" stroke-opacity="0.38" stroke-width="0.6"/>
<circle cx="323.1" cy="316.9" r="1.45" fill="#000" fill-opacity="0.38" stroke="#000" stroke-opacity="0.38" stroke-width="0.6"/>
<circle cx="312.8" cy="329.5" r="1.45" fill="#000" fill-opacity="0.38" stroke="#000" stroke-opacity="0.38" stroke-width="0.6"/>
<circle cx="316.8" cy="328.9" r="1.45" fill="#000" fill-opacity="0.38" stroke="#000" stroke-opacity="0.38" stroke-width="0.6"/>
<circle cx="319.3" cy="327.5" r="1.45" fill="#000" fill-opacity="0.38" stroke="#000" stroke-opacity="0.38" stroke-width="0.6"/>
<circle cx="311.4" cy="342.7" r="1.45" fill="#000" fill-opacity="0.38" stroke="#000" stroke-opacity="0.38" stroke-width="0.6"/>
<circle cx="316.5" cy="342.7" r="1.45" fill="#000" fill-opacity="0.38" stroke="#000" stroke-opacity="0.38" stroke-width="0.6"/>
<circle cx="319.6" cy="347.5" r="1.45" fill="#000" fill-opacity="0.38" stroke="#000" stroke-opacity="0.38" stroke-width="0.6"/>
<circle cx="320.8" cy="355.4" r="1.45" fill="#000" fill-opacity="0.38" stroke="#000" stroke-opacity="0.38" stroke-width="0.6"/>
<circle cx="317" cy="358.2" r="1.45" fill="#000" fill-opacity="0.38" stroke="#000" stroke-opacity="0.38" stroke-width="0.6"/>
<circle cx="317.3" cy="358.5" r="1.45" fill="#000" fill-opacity="0.38" stroke="#000" stroke-opacity="0.38" stroke-width="0.6"/>
<circle cx="320" cy="361.6" r="1.45" fill="#000" fill-opacity="0.38" stroke="#000" stroke-opacity="0.38" stroke-width="0.6"/>
<circle cx="320.3" cy="361.9" r="1.45" fill="#000" fill-opacity="0.38" stroke="#000" stroke-opacity="0.38" stroke-width="0.6"/>
<circle cx="316.5" cy="362.2" r="1.45" fill="#000" fill-opacity="0.38" stroke="#000" stroke-opacity="0.38" stroke-width="0.6"/>
<circle cx="322.8" cy="367.7" r="1.45" fill="#000" fill-opacity="0.38" stroke="#000" stroke-opacity="0.38" stroke-width="0.6"/>
<circle cx="312.4" cy="370.8" r="1.45" fill="#000" fill-opacity="0.38" stroke="#000" stroke-opacity="0.38" stroke-width="0.6"/>
<circle cx="311.4" cy="387.1" r="1.45" fill="#000" fill-opacity="0.38" stroke="#000" stroke-opacity="0.38" stroke-width="0.6"/>
<circle cx="310.5" cy="392.9" r="1.45" fill="#000" fill-opacity="0.38" stroke="#000" stroke-opacity="0.38" stroke-width="0.6"/>
<circle cx="319.6" cy="397.1" r="1.45" fill="#000" fill-opacity="0.38" stroke="#000" stroke-opacity="0.38" stroke-width="0.6"/>
<circle cx="315.6" cy="399" r="1.45" fill="#000" fill-opacity="0.38" stroke="#000" stroke-opacity="0.38" stroke-width="0.6"/>
<circle cx="312.7" cy="438.7" r="1.45" fill="#000" fill-opacity="0.38" stroke="#000" stroke-opacity="0.38" stroke-width="0.6"/>
<circle cx="402.5" cy="303.2" r="1.45" fill="#000" fill-opacity="0.38" stroke="#000" stroke-opacity="0.38" stroke-width="0.6"/>
<circle cx="404.8" cy="304.5" r="1.45" fill="#000" fill-opacity="0.38" stroke="#000" stroke-opacity="0.38" stroke-width="0.6"/>
<circle cx="399.9" cy="317.5" r="1.45" fill="#000" fill-opacity="0.38" stroke="#000" stroke-opacity="0.38" stroke-width="0.6"/>
<circle cx="404.1" cy="317.7" r="1.45" fill="#000" fill-opacity="0.38" stroke="#000" stroke-opacity="0.38" stroke-width="0.6"/>
<circle cx="401.6" cy="328.3" r="1.45" fill="#000" fill-opacity="0.38" stroke="#000" stroke-opacity="0.38" stroke-width="0.6"/>
<circle cx="401.9" cy="328.6" r="1.45" fill="#000" fill-opacity="0.38" stroke="#000" stroke-opacity="0.38" stroke-width="0.6"/>
<circle cx="397" cy="331" r="1.45" fill="#000" fill-opacity="0.38" stroke="#000" stroke-opacity="0.38" stroke-width="0.6"/>
<circle cx="401.9" cy="339.8" r="1.45" fill="#000" fill-opacity="0.38" stroke="#000" stroke-opacity="0.38" stroke-width="0.6"/>
<circle cx="406.2" cy="342.1" r="1.45" fill="#000" fill-opacity="0.38" stroke="#000" stroke-opacity="0.38" stroke-width="0.6"/>
<circle cx="401.1" cy="349.1" r="1.45" fill="#000" fill-opacity="0.38" stroke="#000" stroke-opacity="0.38" stroke-width="0.6"/>
<circle cx="398.8" cy="355" r="1.45" fill="#000" fill-opacity="0.38" stroke="#000" stroke-opacity="0.38" stroke-width="0.6"/>
<circle cx="399.1" cy="355.3" r="1.45" fill="#000" fill-opacity="0.38" stroke="#000" stroke-opacity="0.38" stroke-width="0.6"/>
<circle cx="405.1" cy="355.5" r="1.45" fill="#000" fill-opacity="0.38" stroke="#000" stroke-opacity="0.38" stroke-width="0.6"/>
<circle cx="405.4" cy="357.8" r="1.45" fill="#000" fill-opacity="0.38" stroke="#000" stroke-opacity="0.38" stroke-width="0.6"/>
<circle cx="405.6" cy="358.1" r="1.45" fill="#000" fill-opacity="0.38" stroke="#000" stroke-opacity="0.38" stroke-width="0.6"/>
<circle cx="397.4" cy="369.4" r="1.45" fill="#000" fill-opacity="0.38" stroke="#000" stroke-opacity="0.38" stroke-width="0.6"/>
<circle cx="406.6" cy="369" r="1.45" fill="#000" fill-opacity="0.38" stroke="#000" stroke-opacity="0.38" stroke-width="0.6"/>
<circle cx="402.2" cy="372.3" r="1.45" fill="#000" fill-opacity="0.38" stroke="#000" stroke-opacity="0.38" stroke-width="0.6"/>
<circle cx="402" cy="385.3" r="1.45" fill="#000" fill-opacity="0.38" stroke="#000" stroke-opacity="0.38" stroke-width="0.6"/>
<circle cx="401.9" cy="393.1" r="1.45" fill="#000" fill-opacity="0.38" stroke="#000" stroke-opacity="0.38" stroke-width="0.6"/>
<circle cx="410" cy="395.7" r="1.45" fill="#000" fill-opacity="0.38" stroke="#000" stroke-opacity="0.38" stroke-width="0.6"/>
<circle cx="398.8" cy="411.4" r="1.45" fill="#000" fill-opacity="0.38" stroke="#000" stroke-opacity="0.38" stroke-width="0.6"/>
<circle cx="399.9" cy="413.9" r="1.45" fill="#000" fill-opacity="0.38" stroke="#000" stroke-opacity="0.38" stroke-width="0.6"/>
<circle cx="399.6" cy="435.1" r="1.45" fill="#000" fill-opacity="0.38" stroke="#000" stroke-opacity="0.38" stroke-width="0.6"/>
<circle cx="399.9" cy="435.4" r="1.45" fill="#000" fill-opacity="0.38" stroke="#000" stroke-opacity="0.38" stroke-width="0.6"/>
<rect x="209.0" y="275.65" width="147.90" height="17.05" fill="none" stroke="#000" stroke-width="1.3"/>
<line x1="209.0" y1="292.7" x2="356.9" y2="292.7" stroke="#000" stroke-width="2.3"/>
<rect x="209.0" y="292.7" width="147.90" height="229.10" fill="none" stroke="#2e2e2e" stroke-width="1.4"/>
<line x1="209.0" y1="521.8" x2="356.9" y2="521.8" stroke="#262626" stroke-width="1.6"/>
<line x1="209.0" y1="292.7" x2="209.0" y2="522.60" stroke="#111" stroke-width="1.5"/>
<rect x="363.7" y="275.65" width="147.30" height="17.05" fill="none" stroke="#000" stroke-width="1.3"/>
<line x1="363.7" y1="292.7" x2="511.0" y2="292.7" stroke="#000" stroke-width="2.3"/>
<rect x="363.7" y="292.7" width="147.30" height="229.10" fill="none" stroke="#2e2e2e" stroke-width="1.4"/>
<line x1="363.7" y1="521.8" x2="511.0" y2="521.8" stroke="#262626" stroke-width="1.6"/>
<line x1="363.7" y1="292.7" x2="363.7" y2="522.60" stroke="#2a2a2a" stroke-width="1.5"/>
<text x="282.95" y="287.80" text-anchor="middle" font-family='"Liberation Serif", serif' font-style="italic" font-weight="bold" font-size="11.3" fill="#000">patients</text>
<text x="437.35" y="287.80" text-anchor="middle" font-family='"Liberation Serif", serif' font-style="italic" font-weight="bold" font-size="11.3" fill="#000">controls</text>
<line x1="206.20" y1="511.40" x2="209.00" y2="511.40" stroke="#333" stroke-width="0.9"/>
<text x="204.10" y="515.80" text-anchor="end" font-family='"Liberation Serif", serif' font-size="11.3" fill="#222">0</text>
<line x1="206.20" y1="485.78" x2="209.00" y2="485.78" stroke="#333" stroke-width="0.9"/>
<text x="204.10" y="490.18" text-anchor="end" font-family='"Liberation Serif", serif' font-size="11.3" fill="#222">2</text>
<line x1="206.20" y1="460.16" x2="209.00" y2="460.16" stroke="#333" stroke-width="0.9"/>
<text x="204.10" y="464.56" text-anchor="end" font-family='"Liberation Serif", serif' font-size="11.3" fill="#222">4</text>
<line x1="206.20" y1="434.54" x2="209.00" y2="434.54" stroke="#333" stroke-width="0.9"/>
<text x="204.10" y="438.94" text-anchor="end" font-family='"Liberation Serif", serif' font-size="11.3" fill="#222">6</text>
<line x1="206.20" y1="408.92" x2="209.00" y2="408.92" stroke="#333" stroke-width="0.9"/>
<text x="204.10" y="413.32" text-anchor="end" font-family='"Liberation Serif", serif' font-size="11.3" fill="#222">8</text>
<line x1="206.20" y1="383.30" x2="209.00" y2="383.30" stroke="#333" stroke-width="0.9"/>
<text x="204.10" y="387.70" text-anchor="end" font-family='"Liberation Serif", serif' font-size="11.3" fill="#222">10</text>
<line x1="206.20" y1="357.68" x2="209.00" y2="357.68" stroke="#333" stroke-width="0.9"/>
<text x="204.10" y="362.08" text-anchor="end" font-family='"Liberation Serif", serif' font-size="11.3" fill="#222">12</text>
<line x1="206.20" y1="332.06" x2="209.00" y2="332.06" stroke="#333" stroke-width="0.9"/>
<text x="204.10" y="336.46" text-anchor="end" font-family='"Liberation Serif", serif' font-size="11.3" fill="#222">14</text>
<line x1="206.20" y1="306.44" x2="209.00" y2="306.44" stroke="#333" stroke-width="0.9"/>
<text x="204.10" y="310.84" text-anchor="end" font-family='"Liberation Serif", serif' font-size="11.3" fill="#222">16</text>
<text transform="translate(187.6,408.05) rotate(-90)" text-anchor="middle" font-family='"Liberation Serif", serif' font-size="11.4" fill="#222">Odor identification score</text>
<line x1="466.45" y1="336.40" x2="466.45" y2="350.40" stroke="#404040" stroke-width="1"/>
<rect x="460.50" y="339.50" width="11.90" height="7.60" fill="#fff" stroke="#404040" stroke-width="1.0"/>
<line x1="460.50" y1="343.30" x2="472.40" y2="343.30" stroke="#222" stroke-width="1.3"/>
<circle cx="466.45" cy="343.30" r="1.45" fill="#222" fill-opacity="0.85"/>
<text x="479.40" y="347.20" font-family='"Liberation Serif", serif' font-size="10.4" fill="#222">T1</text>
<line x1="466.45" y1="352.90" x2="466.45" y2="367.20" stroke="#404040" stroke-width="1"/>
<rect x="460.50" y="356.00" width="11.90" height="7.90" fill="#999999" stroke="#404040" stroke-width="1.0"/>
<line x1="460.50" y1="359.95" x2="472.40" y2="359.95" stroke="#222" stroke-width="1.3"/>
<circle cx="466.45" cy="359.95" r="1.45" fill="#222" fill-opacity="0.85"/>
<text x="479.40" y="364.00" font-family='"Liberation Serif", serif' font-size="10.4" fill="#222">T2</text>
</svg>
</body></html>
